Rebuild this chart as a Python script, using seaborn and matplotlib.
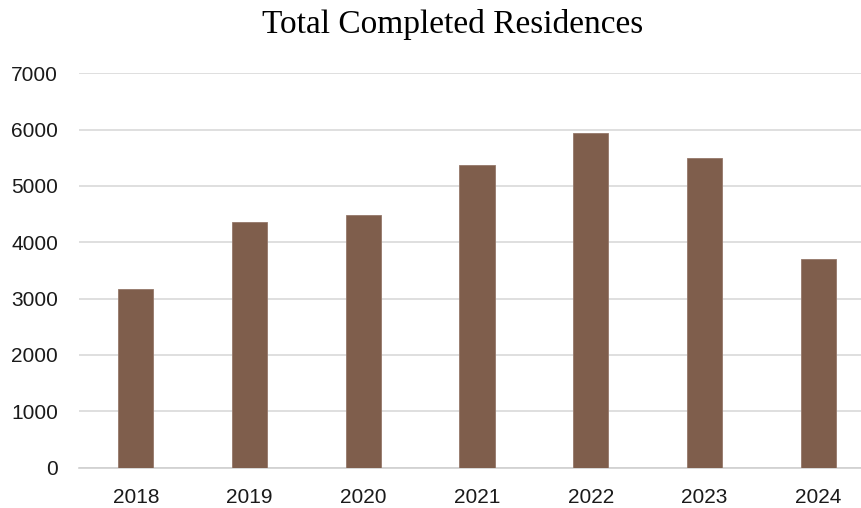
import matplotlib
matplotlib.use("Agg")
import matplotlib.pyplot as plt
import seaborn as sns
import pandas as pd

years = ["2018", "2019", "2020", "2021", "2022", "2023", "2024"]
completed = [3170, 4355, 4490, 5370, 5935, 5495, 3695]
y_ticks = [0, 1000, 2000, 3000, 4000, 5000, 6000, 7000]

df = pd.DataFrame({"year": years, "completed": completed})

sns.set_theme(style="white")
plt.rcParams["font.family"] = ["Liberation Sans", "DejaVu Sans"]

W, H = 861, 508
fig = plt.figure(figsize=(W / 100, H / 100), dpi=100)
left, right, top, bottom = 79, 875, 73.3, 467.5
ax = fig.add_axes([left / W, 1 - bottom / H, (right - left) / W, (bottom - top) / H])

sns.barplot(data=df, x="year", y="completed", color="#7F5E4C", saturation=1,
            width=0.31, edgecolor="#95786a", linewidth=0.6, ax=ax, zorder=3)

ax.set_ylim(0, 7000)
ax.set_xlim(-0.5, len(years) - 0.5)
ax.set_yticks(y_ticks)
ax.set_yticklabels([str(t) for t in y_ticks])
ax.yaxis.grid(True, color="#d9d9d9", linewidth=1.2, zorder=0)
ax.set_axisbelow(True)
for s in ["top", "right", "left"]:
    ax.spines[s].set_visible(False)
ax.spines["bottom"].set_color("#d0d0d0")
ax.spines["bottom"].set_linewidth(1.2)
ax.tick_params(axis="both", length=0, labelsize=15, colors="#1a1a1a")
ax.tick_params(axis="y", pad=15)
ax.tick_params(axis="x", pad=15)
ax.set_xlabel("")
ax.set_ylabel("")

fig.text(453 / W, 1 - 24 / H, "Total Completed Residences", ha="center", va="center",
         fontsize=24, family=["Liberation Serif", "DejaVu Serif"], color="#000000")

fig.savefig("out.png", dpi=100)
